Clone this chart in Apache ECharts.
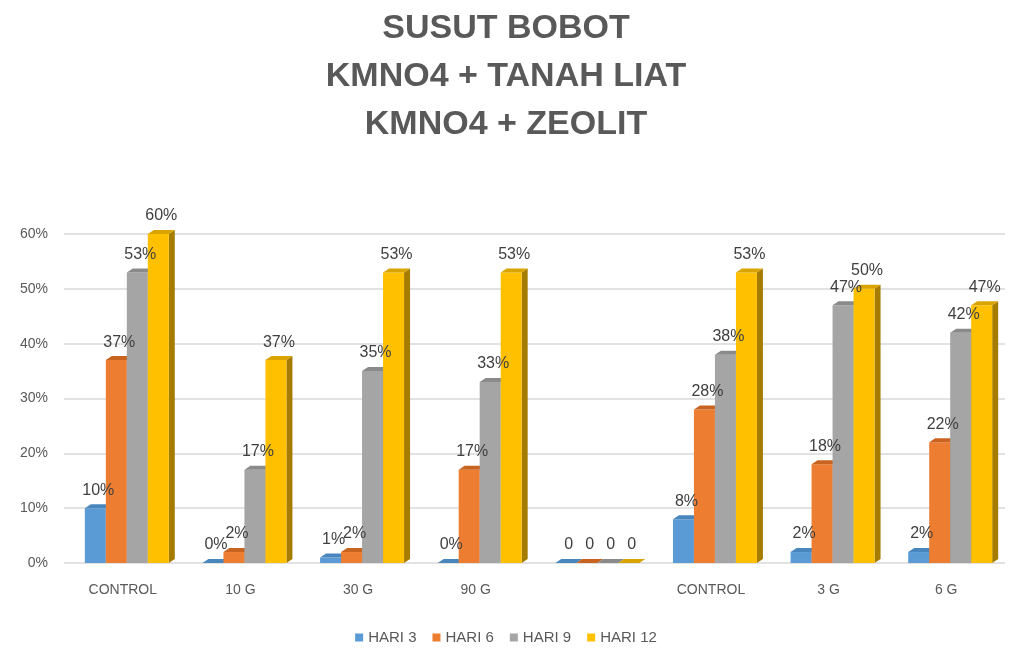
<!DOCTYPE html>
<html>
<head>
<meta charset="utf-8">
<script src="https://cdn.jsdelivr.net/npm/echarts@6/dist/echarts.min.js"></script>
<style>
  html, body { margin: 0; padding: 0; background: #fff; }
  #chart { width: 1012px; height: 648px; }
</style>
</head>
<body>
<div id="chart"></div>
<script>
// categories (the blank one is the gap between the two groups)
var categories = ['CONTROL', '10 G', '30 G', '90 G', '', 'CONTROL', '3 G', '6 G'];
var seriesNames = ['HARI 3', 'HARI 6', 'HARI 9', 'HARI 12'];
// values in percent, null = empty cell (shown as "0")
var hari3 = [10, 0, 1, 0, null, 8, 2, 2];
var hari6 = [37, 2, 2, 17, null, 28, 18, 22];
var hari9 = [53, 17, 35, 33, null, 38, 47, 42];
var hari12 = [60, 37, 53, 53, null, 53, 50, 47];
var yTicks = [0, 10, 20, 30, 40, 50, 60];

var allValues = [hari3, hari6, hari9, hari12];
var colors = ['#5B9BD5', '#ED7D31', '#A5A5A5', '#FFC000'];
var topColors = ['#4A86BE', '#C8641F', '#8A8A8A', '#D9A300'];
var sideColors = ['#3F73A3', '#A65419', '#737373', '#A67C00'];

var chart = echarts.init(document.getElementById('chart'));

var D = 6, DY = 4;

function barGeom(si, api) {
  var cat = api.value(0);
  var v = api.value(1);
  var blank = isNaN(v);
  if (blank) v = 0;
  var base = api.coord([cat, 0]);
  var top = api.coord([cat, v]);
  var band = api.size([1, 0])[0];
  var bw = band * 0.714 / 4;
  var x0 = base[0] - 2 * bw + si * bw + 4;
  return { x0: x0, bw: bw, ty: top[1], by: base[1], v: v, blank: blank };
}

function makeRender(si) {
  return function (params, api) {
    var g = barGeom(si, api);
    var x0 = g.x0, bw = g.bw, ty = g.ty, by = g.by;
    return {
      type: 'group',
      children: [
        { type: 'polygon', shape: { points: [[x0 + bw, ty], [x0 + bw + D, ty - DY], [x0 + bw + D, by - DY], [x0 + bw, by]] },
          style: { fill: sideColors[si] } },
        { type: 'rect', shape: { x: x0, y: ty, width: bw, height: by - ty },
          style: { fill: colors[si] } },
        { type: 'polygon', shape: { points: [[x0, ty], [x0 + D, ty - DY], [x0 + bw + D, ty - DY], [x0 + bw, ty]] },
          style: { fill: topColors[si] } }
      ]
    };
  };
}

function makeLabel(si) {
  return function (params, api) {
    var g = barGeom(si, api);
    return {
      type: 'text', x: g.x0 + g.bw / 2 + D / 2, y: g.ty - DY - 6,
      style: { text: g.blank ? '0' : Math.round(g.v) + '%', fill: '#404040', fontSize: 16,
               fontFamily: 'Liberation Sans', align: 'center', verticalAlign: 'bottom' }
    };
  };
}

function seriesData(si) {
  return allValues[si].map(function (v, i) { return [i, v === null ? '-' : v]; });
}

var series = [];
seriesNames.forEach(function (name, si) {
  series.push({
    name: name, type: 'custom', z: 2,
    renderItem: makeRender(si),
    encode: { x: 0, y: 1 },
    itemStyle: { color: colors[si] },
    data: seriesData(si)
  });
});
seriesNames.forEach(function (name, si) {
  series.push({
    name: name + ' label', type: 'custom', z: 5, silent: true,
    renderItem: makeLabel(si),
    encode: { x: 0, y: 1 },
    data: seriesData(si)
  });
});

chart.setOption({
  animation: false,
  textStyle: { fontFamily: 'Liberation Sans' },
  title: {
    text: 'SUSUT BOBOT\nKMNO4 + TANAH LIAT\nKMNO4 + ZEOLIT',
    left: 'center',
    top: 0,
    textStyle: { fontSize: 34, fontWeight: 'bold', color: '#595959', lineHeight: 48, fontFamily: 'Liberation Sans' }
  },
  legend: {
    bottom: -2,
    left: 'center',
    icon: 'rect',
    itemWidth: 8,
    itemHeight: 8,
    itemGap: 16,
    textStyle: { fontSize: 15, color: '#595959' },
    data: seriesNames
  },
  grid: { left: 64, right: 7, top: 234, bottom: 85 },
  xAxis: {
    type: 'category',
    data: categories,
    axisLine: { show: false },
    axisTick: { show: false },
    axisLabel: { fontSize: 14, color: '#595959', margin: 20 }
  },
  yAxis: {
    type: 'value',
    min: yTicks[0],
    max: yTicks[yTicks.length - 1],
    interval: 10,
    axisLabel: { formatter: '{value}%', fontSize: 14, color: '#595959', margin: 16 },
    splitLine: { lineStyle: { color: '#D9D9D9', width: 1.5 } }
  },
  series: series
});
</script>
</body>
</html>
